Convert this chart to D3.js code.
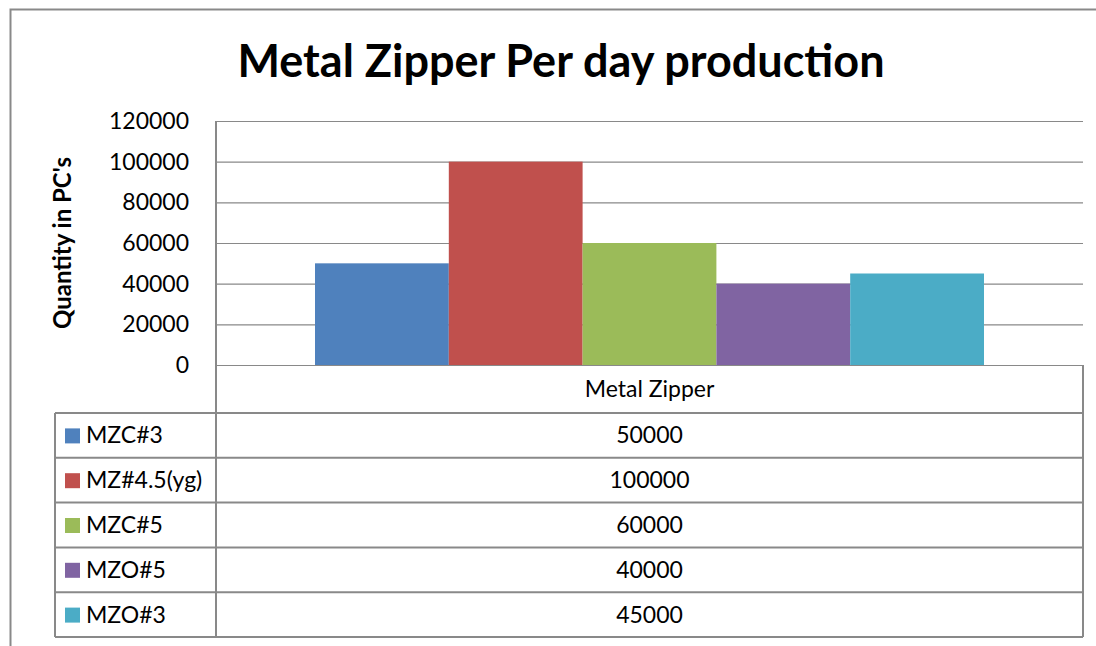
<!DOCTYPE html>
<html>
  <head>
    <title>Metal Zipper Per day production</title>
    <meta charset="utf-8" />
    <style>
      body { margin: 0; background: #fff; }
      svg { display: block; font-family: Lato, "Open Sans", sans-serif; }
    </style>
  </head>
  <body>
    <div id="chart"></div>
    <script src="https://d3js.org/d3.v7.min.js"></script>
    <script type="text/javascript">
        const category = "Metal Zipper";
        const seriesNames = ["MZC#3", "MZ#4.5(yg)", "MZC#5", "MZO#5", "MZO#3"];
        const seriesValues = [50000, 100000, 60000, 40000, 45000];
        const seriesColors = ["#4F81BD", "#C0504D", "#9BBB59", "#8064A2", "#4BACC6"];
        const yTicks = [0, 20000, 40000, 60000, 80000, 100000, 120000];

        const width = 1096;
        const height = 646;
        const plot = {left: 216, right: 1083, top: 121, bottom: 365};
        const table = {left: 55, headerBottom: 413, rowHeight: 44.8};
        const grey = "#898989";
        const fs = 23;

        const svg = d3.select("#chart").append("svg")
            .attr("width", width)
            .attr("height", height);

        // outer chart border
        svg.append("rect")
            .attr("x", 10.5).attr("y", 9.5)
            .attr("width", width + 20).attr("height", height + 20)
            .attr("fill", "none").attr("stroke", grey).attr("stroke-width", 2);

        svg.append("text")
            .attr("x", 561).attr("y", 77)
            .attr("text-anchor", "middle")
            .attr("font-size", 45).attr("font-weight", "bold")
            .text("Metal Zipper Per day production");

        const y = d3.scaleLinear()
            .domain([0, 120000])
            .range([plot.bottom, plot.top]);

        const x = d3.scaleBand()
            .domain([category])
            .range([plot.left, plot.right]);

        const xs = d3.scaleBand()
            .domain(seriesNames)
            .range([0, x.bandwidth()])
            .paddingOuter(0.74)
            .paddingInner(0);

        // gridlines
        svg.append("g")
            .selectAll("line")
            .data(yTicks)
            .join("line")
            .attr("x1", plot.left).attr("x2", plot.right)
            .attr("y1", d => y(d) + 0.5).attr("y2", d => y(d) + 0.5)
            .attr("stroke", grey).attr("stroke-width", 1.2);

        // y axis
        const yAxis = svg.append("g")
            .attr("transform", `translate(${plot.left},0)`)
            .call(d3.axisLeft(y).tickValues(yTicks).tickSize(0).tickPadding(27).tickFormat(d3.format("d")));
        yAxis.select(".domain").remove();
        yAxis.selectAll("text")
            .attr("font-family", "Lato, 'Open Sans', sans-serif")
            .attr("font-size", fs).attr("fill", "#000");

        svg.append("text")
            .attr("transform", `translate(71,${(plot.top + plot.bottom) / 2}) rotate(-90)`)
            .attr("text-anchor", "middle")
            .attr("font-size", 24).attr("font-weight", "bold")
            .text("Quantity in PC's");

        // bars
        svg.append("g")
            .selectAll("rect")
            .data(seriesNames)
            .join("rect")
            .attr("x", d => x(category) + xs(d))
            .attr("width", xs.bandwidth())
            .attr("y", (d, i) => y(seriesValues[i]))
            .attr("height", (d, i) => y(0) - y(seriesValues[i]))
            .attr("fill", (d, i) => seriesColors[i]);

        // data table
        const tbl = svg.append("g")
            .attr("stroke", grey).attr("stroke-width", 2).attr("fill", "none");
        const tableBottom = table.headerBottom + table.rowHeight * seriesNames.length;
        tbl.append("line")
            .attr("x1", plot.left).attr("x2", plot.left)
            .attr("y1", plot.top).attr("y2", tableBottom);
        tbl.append("line")
            .attr("x1", plot.right).attr("x2", plot.right)
            .attr("y1", plot.bottom).attr("y2", tableBottom);
        tbl.append("line")
            .attr("x1", table.left).attr("x2", table.left)
            .attr("y1", table.headerBottom).attr("y2", tableBottom);
        tbl.selectAll("line.row")
            .data(d3.range(seriesNames.length + 1))
            .join("line")
            .attr("class", "row")
            .attr("x1", table.left).attr("x2", plot.right)
            .attr("y1", i => table.headerBottom + i * table.rowHeight)
            .attr("y2", i => table.headerBottom + i * table.rowHeight);

        svg.append("text")
            .attr("x", x(category) + x.bandwidth() / 2)
            .attr("y", (plot.bottom + table.headerBottom) / 2 + 8)
            .attr("text-anchor", "middle")
            .attr("font-size", fs)
            .text(category);

        const rows = svg.append("g")
            .selectAll("g")
            .data(seriesNames)
            .join("g")
            .attr("transform", (d, i) => `translate(0,${table.headerBottom + i * table.rowHeight + table.rowHeight / 2})`);
        rows.append("rect")
            .attr("x", 65).attr("y", -7)
            .attr("width", 15).attr("height", 15)
            .attr("fill", (d, i) => seriesColors[i]);
        rows.append("text")
            .attr("x", 86).attr("y", 8)
            .attr("font-size", fs)
            .text(d => d);
        rows.append("text")
            .attr("x", x(category) + x.bandwidth() / 2)
            .attr("y", 8)
            .attr("text-anchor", "middle")
            .attr("font-size", fs)
            .text((d, i) => seriesValues[i]);
    </script>
  </body>
</html>
